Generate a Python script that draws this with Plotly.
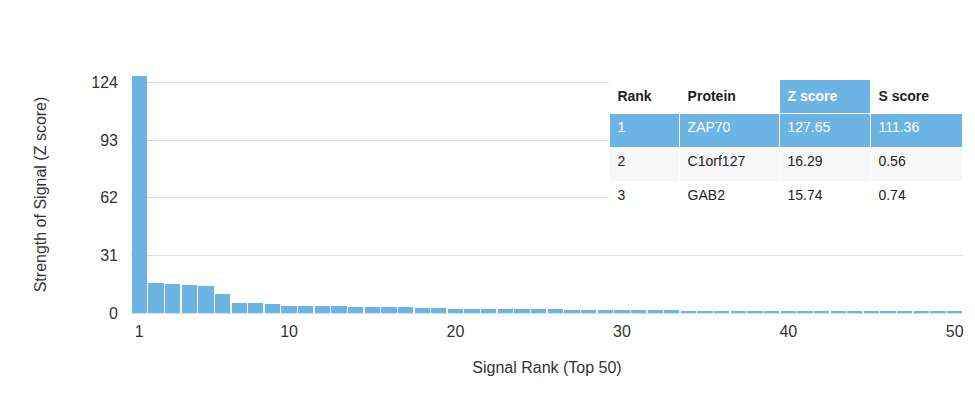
import plotly.graph_objects as go

ranks = list(range(1, 51))
z_scores = [127.65, 16.29, 15.74, 15.0, 14.5, 10.3, 5.6, 5.4, 4.9, 3.9,
            3.8, 3.6, 3.6, 3.5, 3.4, 3.2, 3.1, 2.8, 2.6, 2.4,
            2.3, 2.2, 2.1, 2.0, 2.0, 1.9, 1.8, 1.7, 1.6, 1.5,
            1.5, 1.4, 1.4, 1.3, 1.3, 1.3, 1.2, 1.2, 1.2, 1.1,
            1.1, 1.1, 1.1, 1.0, 1.0, 1.0, 1.0, 0.9, 0.9, 0.9]

tbl_rank = ['1', '2', '3']
tbl_protein = ['ZAP70', 'C1orf127', 'GAB2']
tbl_z = ['127.65', '16.29', '15.74']
tbl_s = ['111.36', '0.56', '0.74']

blue = '#6cb4e4'
font = 'Liberation Sans, Arial, sans-serif'

fig = go.Figure()
fig.add_trace(go.Bar(x=ranks, y=z_scores, marker_color=blue,
                     marker_line_width=0, width=0.92, hoverinfo='x+y'))

row_fill = [blue, '#f7f7f7', 'white']
row_font = ['white', '#222', '#222']
fig.add_trace(go.Table(
    domain=dict(x=[0.575, 1.0], y=[0.40, 0.985]),
    columnwidth=[71, 101, 92, 93],
    header=dict(values=['<b>Rank</b>', '<b>Protein</b>', '<b>Z score</b>', '<b>S score</b>'],
                fill_color=['white', 'white', blue, 'white'],
                font=dict(family=font, size=14, color=['#222', '#222', 'white', '#222']),
                line_color='white', align='left', height=34),
    cells=dict(values=[tbl_rank, tbl_protein, tbl_z, tbl_s],
               fill_color=[row_fill] * 4,
               font=dict(family=font, size=14, color=[row_font] * 4),
               line_color='white', align='left', height=34),
))

fig.update_layout(
    width=975, height=410,
    margin=dict(l=123, r=20, t=68, b=105),
    plot_bgcolor='white', paper_bgcolor='white',
    showlegend=False, bargap=0,
    font=dict(family=font, color='#333'),
    xaxis=dict(range=[0.5, 50.5], tickvals=[1, 10, 20, 30, 40, 50],
               tickfont=dict(size=16), showgrid=False, zeroline=False,
               showline=True, linecolor='#cfe3f1', ticks='', automargin=False,
               ticklabelstandoff=4,
               title=dict(text='Signal Rank (Top 50)', font=dict(size=16), standoff=22)),
    yaxis=dict(range=[0, 127.65], tickvals=[0, 31, 62, 93, 124],
               tickfont=dict(size=16), gridcolor='#dcdcdc', zeroline=False,
               ticks='', automargin=False, ticklabelstandoff=12,
               title=dict(text='Strength of Signal (Z score)', font=dict(size=16), standoff=40)),
)

fig.write_html("out.html")
